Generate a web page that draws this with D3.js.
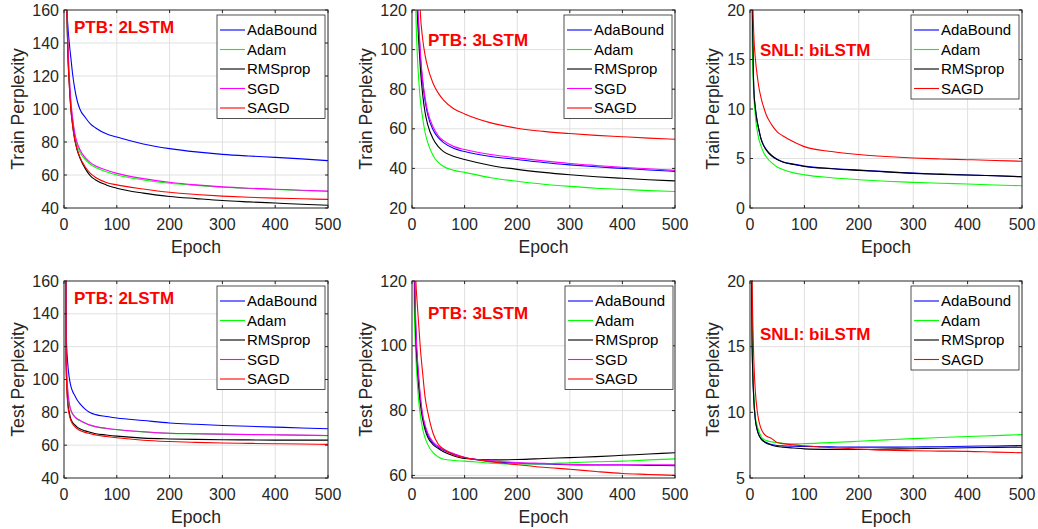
<!DOCTYPE html>
<html>
<head>
<meta charset="utf-8">
<script src="https://cdn.jsdelivr.net/npm/d3@7"></script>
<style>
  body { margin: 0; background: #fff; }
  svg { font-family: "Liberation Sans", Arial, Helvetica, sans-serif; }
</style>
</head>
<body>
<svg id="chart" width="1038" height="529"></svg>
<script>
const epochs = [1, 4, 7, 10, 13, 16, 20, 25, 30, 40, 50, 60, 80, 100, 150, 200, 250, 300, 350, 400, 450, 500];

const seriesNames = ["AdaBound", "Adam", "RMSprop", "SGD", "SAGD"];
const seriesColors = ["#0000ff", "#00ff00", "#000000", "#ff00ff", "#ff0000"];
const xTicks = [0, 100, 200, 300, 400, 500];

// Train perplexity, PTB 2LSTM
const tr2AdaBound = [400, 175, 152, 140, 131, 122, 113, 105, 100, 95, 91, 88.5, 85, 83, 78.8, 76, 74, 72.5, 71.5, 70.7, 69.8, 68.7];
const tr2Adam     = [400, 200, 140, 118, 103, 94, 85, 78, 74, 69.5, 66.5, 64.5, 62, 60, 57, 55, 53.7, 52.6, 51.8, 51.2, 50.6, 50];
const tr2RMSprop  = [400, 200, 138, 115, 100, 91, 82, 75, 70.5, 64, 59.5, 57, 54, 52, 49, 47, 45.7, 44.5, 43.7, 43, 42.3, 41.7];
const tr2SGD      = [400, 205, 145, 121, 105, 95.5, 86, 79.5, 75.5, 70.5, 67.5, 65.5, 63, 61, 57.8, 55.6, 54, 52.8, 52, 51.4, 50.8, 50.3];
const tr2SAGD     = [400, 200, 138, 115, 100, 91, 82, 75.5, 71, 65, 61, 58.5, 55.5, 54, 51.5, 49.5, 48.2, 47.2, 46.5, 46, 45.6, 45.2];

// Train perplexity, PTB 3LSTM
const tr3AdaBound = [400, 250, 160, 125, 110, 96, 84, 74, 67, 59.5, 55.5, 53, 50, 48.5, 46, 44.5, 43, 41.8, 40.8, 40, 39.2, 38.5];
const tr3Adam     = [400, 200, 125, 98, 84, 74, 66, 58, 53, 46.5, 43, 41, 39, 38, 35.3, 33.5, 32, 30.9, 30, 29.4, 28.8, 28.3];
const tr3RMSprop  = [400, 250, 155, 120, 103, 90, 78, 68, 62, 55, 51, 48.5, 46, 44.5, 41.5, 39.5, 38, 36.8, 35.8, 35, 34.3, 33.7];
const tr3SGD      = [400, 260, 165, 128, 112, 98, 85.5, 75.5, 68.5, 61, 56.5, 54, 51, 49.5, 47, 45.3, 43.8, 42.5, 41.5, 40.6, 39.8, 39];
const tr3SAGD     = [500, 400, 250, 170, 138, 118, 106, 97, 91, 83, 78, 74.5, 70, 67.5, 63, 60.3, 58.7, 57.6, 56.7, 56, 55.3, 54.7];

// Train perplexity, SNLI biLSTM
const trsAdaBound = [40, 22, 12, 10, 8.8, 8.0, 7.05, 6.35, 5.9, 5.3, 4.93, 4.68, 4.43, 4.23, 3.99, 3.83, 3.67, 3.52, 3.42, 3.34, 3.26, 3.16];
const trsAdam     = [40, 17, 11.5, 9.2, 7.9, 7.0, 6.3, 5.6, 5.15, 4.55, 4.15, 3.9, 3.55, 3.35, 3.06, 2.86, 2.7, 2.59, 2.5, 2.42, 2.33, 2.25];
const trsRMSprop  = [40, 22, 12, 10, 8.8, 8.0, 7.0, 6.3, 5.85, 5.25, 4.9, 4.65, 4.4, 4.2, 3.97, 3.8, 3.65, 3.5, 3.4, 3.33, 3.25, 3.15];
const trsSAGD     = [40, 24, 17.5, 15, 13.5, 12.3, 11.2, 10.2, 9.4, 8.4, 7.7, 7.3, 6.7, 6.2, 5.7, 5.4, 5.2, 5.05, 4.95, 4.88, 4.8, 4.72];

// Test perplexity, PTB 2LSTM
const te2AdaBound = [400, 130, 110, 101, 96, 93, 90.5, 87.5, 85.3, 82, 79.8, 78.6, 77.5, 76.5, 75, 73.5, 72.7, 72, 71.5, 71, 70.5, 70];
const te2Adam     = [400, 115, 93, 85, 81, 79, 77.3, 75.8, 75, 73.3, 72, 71.2, 70.2, 69.4, 68.1, 67.2, 66.9, 66.6, 66.4, 66.2, 66, 65.8];
const te2RMSprop  = [400, 110, 87, 80, 76, 74, 72.5, 71, 70, 68.7, 67.8, 67, 66.2, 65.5, 64.3, 63.8, 63.5, 63.3, 63.2, 63.1, 63.1, 63.1];
const te2SGD      = [400, 116, 94, 85.5, 81.5, 79.3, 77.6, 76.1, 75.2, 73.5, 72.2, 71.3, 70.3, 69.5, 68.2, 67.3, 67, 66.7, 66.5, 66.3, 66.1, 65.9];
const te2SAGD     = [400, 108, 85, 78.5, 75, 73, 71.5, 70, 69, 67.8, 67, 66.2, 65.3, 64.5, 63, 62.2, 61.7, 61.3, 61.1, 60.9, 60.7, 60.5];

// Test perplexity, PTB 3LSTM
const te3AdaBound = [300, 135, 106, 96, 89, 83.5, 78.5, 75, 72.5, 70, 68.7, 67.8, 66.5, 65.5, 64.3, 63.8, 63.5, 63.3, 63.2, 63.2, 63.1, 63];
const te3Adam     = [300, 115, 98, 89, 82.5, 78.5, 74.5, 71.5, 69.5, 67, 65.7, 65, 64.6, 64.4, 63.8, 63.5, 63.6, 63.9, 64.2, 64.4, 64.8, 65.1];
const te3RMSprop  = [300, 130, 104, 94, 87, 82, 77.5, 74, 71.8, 69.5, 68.3, 67.3, 66, 65.2, 64.8, 64.9, 65.2, 65.5, 65.8, 66.2, 66.6, 67];
const te3SGD      = [300, 138, 108, 97, 90, 84.5, 79, 75.5, 73, 70.3, 69, 68, 66.7, 65.6, 64.5, 64, 63.7, 63.4, 63.3, 63.3, 63.3, 63.3];
const te3SAGD     = [300, 200, 122, 113, 106, 99, 92, 84, 79.5, 73, 69.6, 68.2, 66.3, 65.5, 64.2, 63.3, 62.5, 61.9, 61.2, 60.6, 60.3, 60];

// Test perplexity, SNLI biLSTM
const tesAdaBound = [30, 15, 11, 9.4, 8.7, 8.3, 8.0, 7.8, 7.7, 7.55, 7.48, 7.45, 7.42, 7.4, 7.37, 7.35, 7.35, 7.36, 7.38, 7.42, 7.44, 7.47];
const tesAdam     = [30, 15.5, 11.2, 9.6, 9.0, 8.6, 8.2, 7.95, 7.85, 7.75, 7.7, 7.65, 7.6, 7.62, 7.7, 7.8, 7.9, 8.0, 8.08, 8.16, 8.23, 8.3];
const tesRMSprop  = [30, 15, 11, 9.4, 8.7, 8.3, 8.0, 7.8, 7.65, 7.5, 7.4, 7.35, 7.28, 7.22, 7.18, 7.17, 7.2, 7.23, 7.26, 7.3, 7.33, 7.35];
const tesSAGD     = [30, 19.5, 14, 11.5, 10.2, 9.4, 8.8, 8.4, 8.2, 8.0, 7.7, 7.62, 7.52, 7.45, 7.3, 7.2, 7.12, 7.08, 7.05, 7.03, 6.97, 6.92];

const panels = [
  { left: 64, right: 328, top: 10, bottom: 208, yDomain: [40, 160], yTicks: [40, 60, 80, 100, 120, 140, 160],
    ylabel: "Train Perplexity", title: "PTB: 2LSTM", tx: 10, ty: 23, legX: 217,
    series: [tr2AdaBound, tr2Adam, tr2RMSprop, tr2SGD, tr2SAGD] },
  { left: 412, right: 675, top: 10, bottom: 208, yDomain: [20, 120], yTicks: [20, 40, 60, 80, 100, 120],
    ylabel: "Train Perplexity", title: "PTB: 3LSTM", tx: 16, ty: 36, legX: 564,
    series: [tr3AdaBound, tr3Adam, tr3RMSprop, tr3SGD, tr3SAGD] },
  { left: 750, right: 1022, top: 10, bottom: 208, yDomain: [0, 20], yTicks: [0, 5, 10, 15, 20],
    ylabel: "Train Perplexity", title: "SNLI: biLSTM", tx: 10, ty: 46, legX: 911,
    series: [trsAdaBound, trsAdam, trsRMSprop, null, trsSAGD] },
  { left: 64, right: 328, top: 281, bottom: 478, yDomain: [40, 160], yTicks: [40, 60, 80, 100, 120, 140, 160],
    ylabel: "Test Perplexity", title: "PTB: 2LSTM", tx: 10, ty: 23, legX: 217,
    series: [te2AdaBound, te2Adam, te2RMSprop, te2SGD, te2SAGD] },
  { left: 412, right: 675, top: 281, bottom: 478, yDomain: [59.2, 120], yTicks: [60, 80, 100, 120],
    ylabel: "Test Perplexity", title: "PTB: 3LSTM", tx: 16, ty: 38, legX: 565,
    series: [te3AdaBound, te3Adam, te3RMSprop, te3SGD, te3SAGD] },
  { left: 750, right: 1022, top: 281, bottom: 478, yDomain: [5, 20], yTicks: [5, 10, 15, 20],
    ylabel: "Test Perplexity", title: "SNLI: biLSTM", tx: 10, ty: 59, legX: 911,
    series: [tesAdaBound, tesAdam, tesRMSprop, null, tesSAGD] }
];

const svg = d3.select("#chart");
const axisColor = "#262626";
const gridColor = "#e0e0e0";

panels.forEach((p, pi) => {
  const x = d3.scaleLinear().domain([0, 500]).range([p.left, p.right]);
  const y = d3.scaleLinear().domain(p.yDomain).range([p.bottom, p.top]);
  const g = svg.append("g");

  g.append("clipPath").attr("id", "clip" + pi)
    .append("rect").attr("x", p.left).attr("y", p.top)
    .attr("width", p.right - p.left).attr("height", p.bottom - p.top);

  // grid
  g.selectAll(".gx").data(xTicks.slice(1, -1)).join("line")
    .attr("x1", d => x(d)).attr("x2", d => x(d))
    .attr("y1", p.top).attr("y2", p.bottom)
    .attr("stroke", gridColor).attr("stroke-width", 1);
  g.selectAll(".gy").data(p.yTicks.filter(d => y(d) > p.top + 1 && y(d) < p.bottom - 1)).join("line")
    .attr("class", "gy")
    .attr("x1", p.left).attr("x2", p.right)
    .attr("y1", d => y(d)).attr("y2", d => y(d))
    .attr("stroke", gridColor).attr("stroke-width", 1);

  // curves
  const line = d3.line()
    .x((d, i) => x(epochs[i]))
    .y(d => y(d))
    .curve(d3.curveMonotoneX);
  const lines = g.append("g").attr("clip-path", `url(#clip${pi})`);
  p.series.forEach((s, si) => {
    if (!s) return;
    lines.append("path").datum(s)
      .attr("d", line)
      .attr("fill", "none")
      .attr("stroke", seriesColors[si])
      .attr("stroke-width", 1.1);
  });

  // box + inward ticks
  g.append("rect").attr("x", p.left).attr("y", p.top)
    .attr("width", p.right - p.left).attr("height", p.bottom - p.top)
    .attr("fill", "none").attr("stroke", axisColor).attr("stroke-width", 1);
  const tl = 3;
  xTicks.forEach(t => {
    g.append("line").attr("x1", x(t)).attr("x2", x(t)).attr("y1", p.bottom).attr("y2", p.bottom - tl).attr("stroke", axisColor);
    g.append("line").attr("x1", x(t)).attr("x2", x(t)).attr("y1", p.top).attr("y2", p.top + tl).attr("stroke", axisColor);
  });
  p.yTicks.forEach(t => {
    g.append("line").attr("x1", p.left).attr("x2", p.left + tl).attr("y1", y(t)).attr("y2", y(t)).attr("stroke", axisColor);
    g.append("line").attr("x1", p.right).attr("x2", p.right - tl).attr("y1", y(t)).attr("y2", y(t)).attr("stroke", axisColor);
  });

  // tick labels
  g.selectAll(".xt").data(xTicks).join("text")
    .attr("x", d => x(d)).attr("y", p.bottom + 22)
    .attr("text-anchor", "middle").attr("font-size", 16).attr("fill", axisColor)
    .text(d => d);
  const yt = g.selectAll(".yt").data(p.yTicks).join("text")
    .attr("x", p.left - 5).attr("y", d => y(d) + 5.5)
    .attr("text-anchor", "end").attr("font-size", 16).attr("fill", axisColor)
    .text(d => d);
  let maxW = 0;
  yt.each(function() { maxW = Math.max(maxW, this.getComputedTextLength()); });

  // axis labels
  g.append("text")
    .attr("x", (p.left + p.right) / 2).attr("y", p.bottom + 45)
    .attr("text-anchor", "middle").attr("font-size", 17.6).attr("fill", axisColor)
    .text("Epoch");
  const lx = p.left - 5 - maxW - 8;
  g.append("text")
    .attr("transform", `translate(${lx},${(p.top + p.bottom) / 2}) rotate(-90)`)
    .attr("text-anchor", "middle").attr("font-size", 17.6).attr("fill", axisColor)
    .text(p.ylabel);

  // title annotation
  g.append("text")
    .attr("x", p.left + p.tx).attr("y", p.top + p.ty)
    .attr("font-size", 17).attr("font-weight", "bold").attr("fill", "#ff0000")
    .text(p.title);

  // legend
  const items = seriesNames.map((n, i) => ({ name: n, color: seriesColors[i], s: p.series[i] })).filter(d => d.s);
  const rowH = 19.5;
  const legW = 108, legH = items.length * rowH + 6;
  const ly = p.top + 5;
  const leg = g.append("g");
  leg.append("rect").attr("x", p.legX).attr("y", ly).attr("width", legW).attr("height", legH)
    .attr("fill", "#fff").attr("stroke", axisColor).attr("stroke-width", 0.8);
  items.forEach((it, i) => {
    const cy = ly + 15 + i * rowH;
    leg.append("line").attr("x1", p.legX + 3).attr("x2", p.legX + 28)
      .attr("y1", cy).attr("y2", cy).attr("stroke", it.color).attr("stroke-width", 1.1);
    leg.append("text").attr("x", p.legX + 30).attr("y", cy + 5)
      .attr("font-size", 15).attr("fill", "#000").text(it.name);
  });
});
</script>
</body>
</html>
